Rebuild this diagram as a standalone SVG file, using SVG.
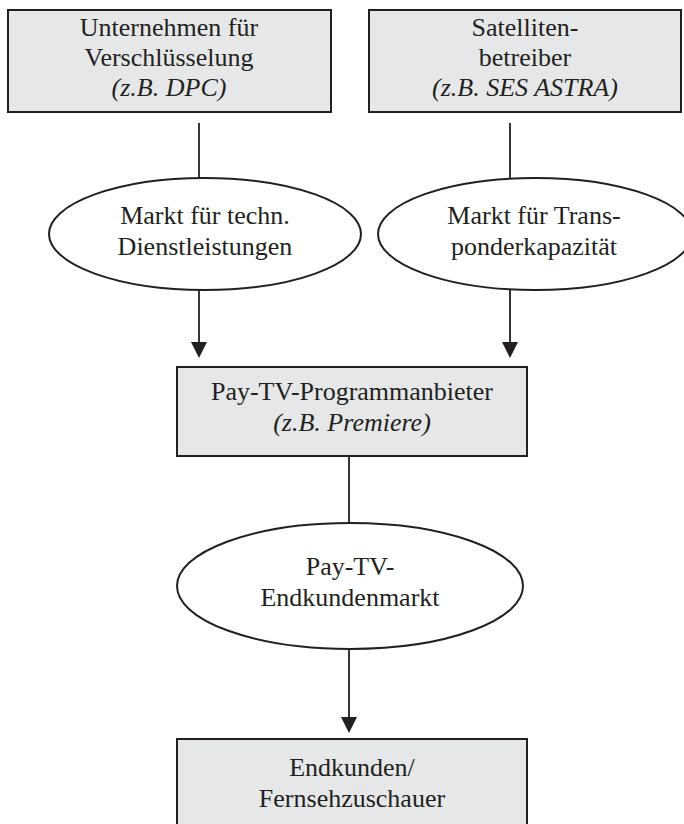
<svg xmlns="http://www.w3.org/2000/svg" width="684" height="824" viewBox="0 0 684 824">
<style>
.box{fill:#e6e7e8;stroke:#231f20;stroke-width:2}
.ell{fill:#ffffff;stroke:#231f20;stroke-width:2}
.t{font-family:'Liberation Serif','Times New Roman',serif;font-size:26px;fill:#231f20;text-anchor:middle}
.i{font-style:italic}
.ln{stroke:#231f20;stroke-width:1.8;fill:none}
</style>
<rect width="684" height="824" fill="#ffffff"/>
<g id="connectors">
<line class="ln" x1="199" y1="123" x2="199" y2="178"/>
<line class="ln" x1="510" y1="123" x2="510" y2="178"/>
<line class="ln" x1="199" y1="290" x2="199" y2="342"/>
<path d="M191,342 L207,342 L199,358 Z" fill="#231f20"/>
<line class="ln" x1="510" y1="290" x2="510" y2="342"/>
<path d="M502,342 L518,342 L510,358 Z" fill="#231f20"/>
<line class="ln" x1="349" y1="456" x2="349" y2="523"/>
<line class="ln" x1="349" y1="649" x2="349" y2="717"/>
<path d="M341,717 L357,717 L349,733 Z" fill="#231f20"/>
</g>
<g id="n1">
<rect class="box" x="8" y="10" width="323" height="102"/>
<text class="t" font-family="Liberation Serif, serif" x="169" y="36">Unternehmen für</text>
<text class="t" font-family="Liberation Serif, serif" x="169" y="66">Verschlüsselung</text>
<text class="t i" font-family="Liberation Serif, serif" x="169" y="96">(z.B. DPC)</text>
</g>
<g id="n2">
<rect class="box" x="369" y="10" width="312" height="102"/>
<text class="t" font-family="Liberation Serif, serif" x="525" y="36">Satelliten-</text>
<text class="t" font-family="Liberation Serif, serif" x="525" y="66">betreiber</text>
<text class="t i" font-family="Liberation Serif, serif" x="525" y="96">(z.B. SES ASTRA)</text>
</g>
<g id="m1">
<ellipse class="ell" cx="205" cy="234" rx="156" ry="56"/>
<text class="t" font-family="Liberation Serif, serif" x="205" y="224">Markt für techn.</text>
<text class="t" font-family="Liberation Serif, serif" x="205" y="255">Dienstleistungen</text>
</g>
<g id="m2">
<ellipse class="ell" cx="535" cy="234" rx="157" ry="56"/>
<text class="t" font-family="Liberation Serif, serif" x="534" y="224">Markt für Trans-</text>
<text class="t" font-family="Liberation Serif, serif" x="534" y="255">ponderkapazität</text>
</g>
<g id="n3">
<rect class="box" x="177" y="367" width="350" height="89"/>
<text class="t" font-family="Liberation Serif, serif" x="352" y="400">Pay-TV-Programmanbieter</text>
<text class="t i" font-family="Liberation Serif, serif" x="352" y="431">(z.B. Premiere)</text>
</g>
<g id="m3">
<ellipse class="ell" cx="350" cy="586" rx="173" ry="63"/>
<text class="t" font-family="Liberation Serif, serif" x="350" y="575">Pay-TV-</text>
<text class="t" font-family="Liberation Serif, serif" x="350" y="606">Endkundenmarkt</text>
</g>
<g id="n4">
<rect class="box" x="177" y="739" width="350" height="95"/>
<text class="t" font-family="Liberation Serif, serif" x="352" y="776">Endkunden/</text>
<text class="t" font-family="Liberation Serif, serif" x="352" y="807">Fernsehzuschauer</text>
</g>
</svg>
